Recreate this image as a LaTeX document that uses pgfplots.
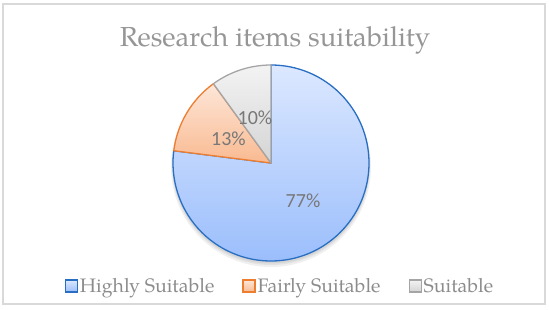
\documentclass[border=0pt]{standalone}
\usepackage{fontspec}
\setmainfont{texgyrepagella-regular.otf}
\newfontfamily\labelfont{Carlito}
\usepackage{pgfplots}
\usepackage{pgfplotstable}
\pgfplotsset{compat=1.18}

\definecolor{bluetop}{RGB}{220,232,255}
\definecolor{bluebot}{RGB}{155,190,252}
\definecolor{blueedge}{RGB}{40,110,195}
\definecolor{orgtop}{RGB}{253,230,216}
\definecolor{orgbot}{RGB}{249,186,145}
\definecolor{orgedge}{RGB}{237,125,49}
\definecolor{grytop}{RGB}{243,243,243}
\definecolor{grybot}{RGB}{212,212,212}
\definecolor{gryedge}{RGB}{165,165,165}
\definecolor{titlegray}{RGB}{150,150,150}
\definecolor{labelgray}{RGB}{120,120,120}
\definecolor{legendgray}{RGB}{140,140,140}
\definecolor{framegray}{RGB}{217,217,217}

\pgfplotstableread{
label value
Highly 77
Fairly 13
Suitable 10
}\piedata
\pgfplotstablegetelem{0}{value}\of\piedata \let\vA\pgfplotsretval
\pgfplotstablegetelem{1}{value}\of\piedata \let\vB\pgfplotsretval
\pgfplotstablegetelem{2}{value}\of\piedata \let\vC\pgfplotsretval
\pgfmathsetmacro\aA{90-3.6*\vA}
\pgfmathsetmacro\aB{\aA-3.6*\vB}
\pgfmathsetmacro\aC{\aB-3.6*\vC}

\begin{document}
\begin{tikzpicture}
\begin{axis}[
  width=550bp, height=309bp, scale only axis,
  xmin=0, xmax=550, ymin=0, ymax=309,
  hide axis, clip=false,
  legend image code/.code={\draw[#1] (0bp,-6bp) rectangle (12bp,6bp);},
  legend style={at={(axis cs:280,23)}, anchor=center, draw=none, fill=none,
    legend columns=3, font=\fontsize{19.5bp}{22bp}\selectfont, text=legendgray,
    /tikz/every even column/.append style={column sep=26bp},
    legend cell align=left, inner sep=0pt},
]
% frame and bounding box
\path (axis cs:0,0) rectangle (axis cs:550,309);
\draw[framegray, line width=1.2bp] (axis cs:3,5) rectangle (axis cs:545,305);
% shadow
\fill[black, opacity=0.06] (axis cs:271,142) circle[radius=100bp];
\fill[black, opacity=0.06] (axis cs:271,143) circle[radius=99bp];
\fill[black, opacity=0.06] (axis cs:271,144) circle[radius=98.5bp];
% slices
\path[draw=blueedge, line width=1.3bp, top color=bluetop, bottom color=bluebot, line join=round]
  (axis cs:271,146) -- ++(90:98bp) arc[start angle=90, end angle=\aA, radius=98bp] -- cycle;
\path[draw=orgedge, line width=1.3bp, top color=orgtop, bottom color=orgbot, line join=round]
  (axis cs:271,146) -- ++(\aA:98bp) arc[start angle=\aA, end angle=\aB, radius=98bp] -- cycle;
\path[draw=gryedge, line width=1.3bp, top color=grytop, bottom color=grybot, line join=round]
  (axis cs:271,146) -- ++(\aB:98bp) arc[start angle=\aB, end angle=\aC, radius=98bp] -- cycle;
% labels
\node[font=\labelfont\fontsize{20bp}{23bp}\selectfont, text=labelgray] at (axis cs:303,108) {77\%};
\node[font=\labelfont\fontsize{20bp}{23bp}\selectfont, text=labelgray] at (axis cs:228.5,170.5) {13\%};
\node[font=\labelfont\fontsize{20bp}{23bp}\selectfont, text=labelgray] at (axis cs:255,191.5) {10\%};
% title
\node[font=\fontsize{27.5bp}{30bp}\selectfont, text=titlegray] at (axis cs:275,269) {Research items suitability};
% legend
\addlegendimage{draw=blueedge, line width=1.2bp, top color=bluetop, bottom color=bluebot}
\addlegendentry{Highly Suitable}
\addlegendimage{draw=orgedge, line width=1.2bp, top color=orgtop, bottom color=orgbot}
\addlegendentry{Fairly Suitable}
\addlegendimage{draw=gryedge, line width=1.2bp, top color=grytop, bottom color=grybot}
\addlegendentry{Suitable}
\end{axis}
\end{tikzpicture}
\end{document}
